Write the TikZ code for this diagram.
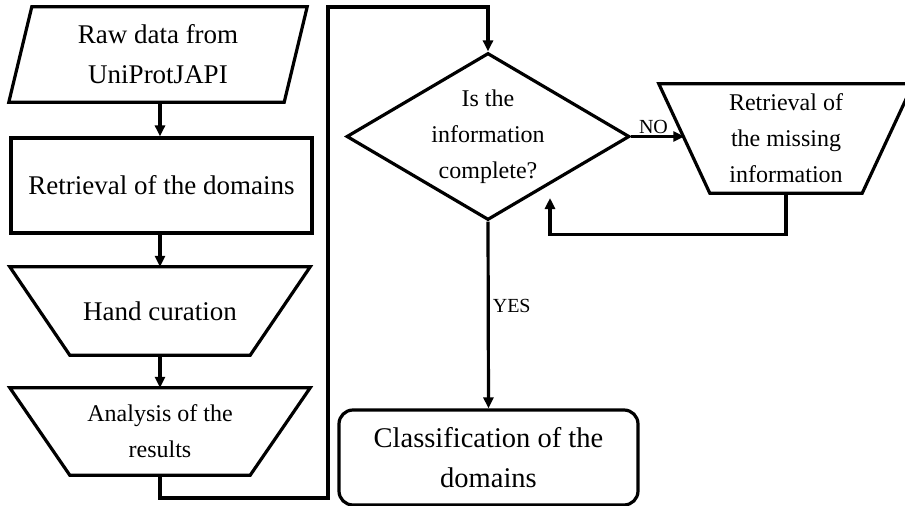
\documentclass[tikz,border=0pt]{standalone}
\usepackage{fontspec}
\setmainfont{Liberation Serif}
\usetikzlibrary{shapes.geometric,arrows.meta}
\begin{document}
\begin{tikzpicture}[x=1pt,y=-1pt,
  lw/.style={line width=3.2pt},
  outline/.style={draw, lw, line join=miter},
  holder/.style={rectangle, inner sep=0pt, align=center},
  bigtext/.style={font=\fontsize{27}{40}\selectfont},
  midtext/.style={font=\fontsize{24}{36}\selectfont},
  arr/.style={lw, -{Triangle[length=11pt,width=10pt]}},
  lbl/.style={font=\fontsize{20}{24}\selectfont, inner sep=1pt}]
\useasboundingbox (0,0) rectangle (905,506);

% left column: text holders sized to each outline's bounding box
\node[holder, bigtext, minimum width=298pt, minimum height=95pt] (raw) at (158,54.5)
      {Raw data from\\UniProtJAPI};
\node[holder, outline, bigtext, minimum width=301pt, minimum height=95pt]
      (dom) at (161.5,185.5) {Retrieval of the domains};
\node[holder, bigtext, minimum width=300pt, minimum height=88pt] (hand) at (160,311)
      {Hand curation};
\node[holder, midtext, minimum width=300pt, minimum height=87pt] (ana) at (160,431.5)
      {Analysis of the\\results};

% outlines: parallelogram and inverted trapezoids
\draw[outline] (raw.south west) -- ([xshift=-23pt]raw.south east) -- (raw.north east)
      -- ([xshift=23pt]raw.north west) -- cycle;
\draw[outline] (hand.north west) -- (hand.north east) -- ([xshift=-60pt]hand.south east)
      -- ([xshift=60pt]hand.south west) -- cycle;
\draw[outline] (ana.north west) -- (ana.north east) -- ([xshift=-60pt]ana.south east)
      -- ([xshift=60pt]ana.south west) -- cycle;

% right part
\node[outline, midtext, diamond, inner sep=0pt, align=center, aspect=1.7,
      minimum width=283pt, minimum height=167pt]
      (dec) at (488,136.5) {Is the\\information\\complete?};
\node[holder, midtext, minimum width=254pt, minimum height=109pt] (miss) at (786,138.5)
      {Retrieval of\\the missing\\information};
\draw[outline] (miss.north west) -- (miss.north east) -- ([xshift=-51pt]miss.south east)
      -- ([xshift=51pt]miss.south west) -- cycle;
\node[holder, outline, rounded corners=14pt, font=\fontsize{28.5}{40}\selectfont,
      minimum width=299pt, minimum height=95pt] (cls) at (488.5,457.5)
      {Classification of the\\domains};

% routing points
\coordinate (railbot) at (328,498);
\coordinate (railtop) at (328,7);
\coordinate (loopend) at (550,198);
\coordinate (missin) at ([xshift=25.5pt]miss.west);

% connectors
\draw[arr] (raw.south -| hand.north) -- (dom.north -| hand.north);
\draw[arr] (dom.south -| hand.north) -- (hand.north);
\draw[arr] (hand.south) -- (ana.north);
\draw[arr] (ana.south) |- (railbot) -- (railtop) -| (dec.north);
\draw[arr] (dec.east) -- node[lbl, above, pos=0.42] {NO} (dec.east -| missin);
\draw[arr] (miss.south) |- ([yshift=-41pt]miss.south -| loopend) -- (loopend);
\draw[arr] (dec.south) -- node[lbl, right, pos=0.45, xshift=2pt] {YES} (cls.north);
\end{tikzpicture}
\end{document}
